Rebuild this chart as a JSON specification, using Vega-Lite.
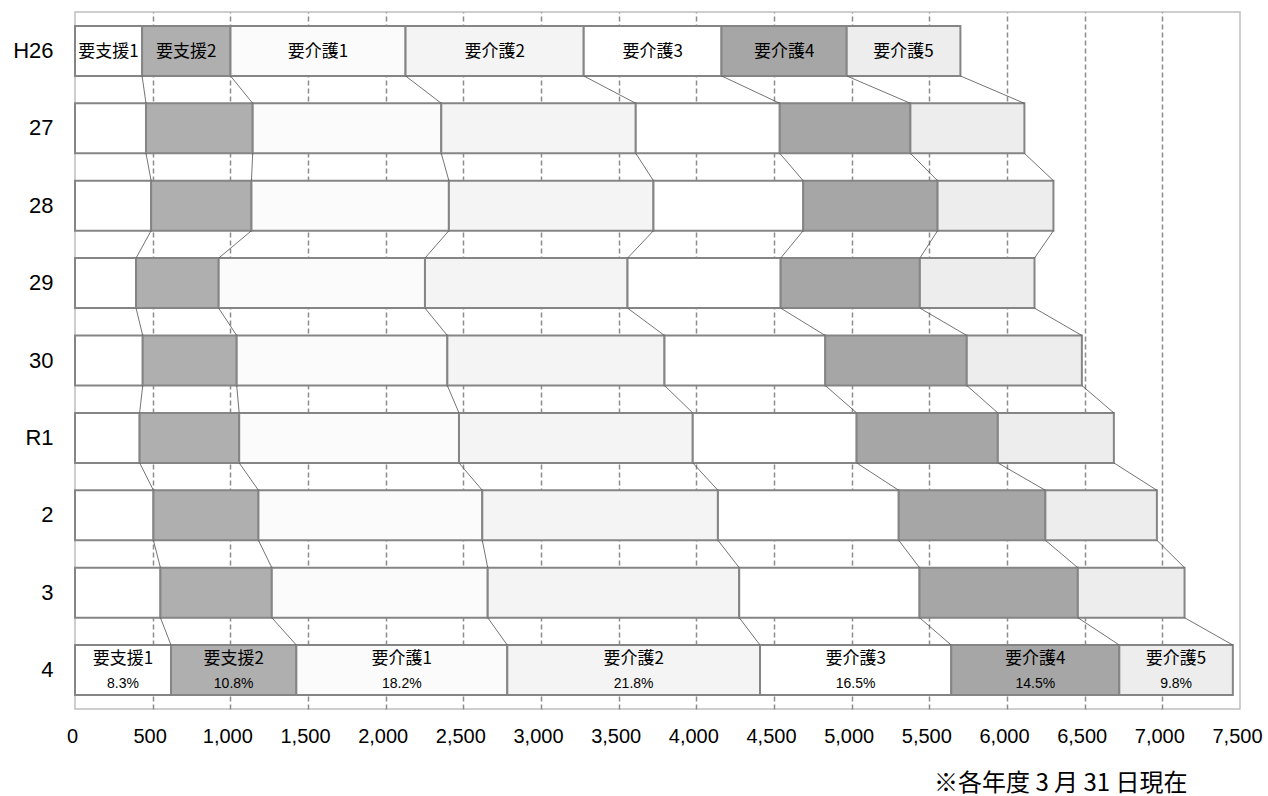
{
  "$schema": "https://vega.github.io/schema/vega-lite/v6.json",
  "width": 1165,
  "height": 697,
  "autosize": {"type": "none"},
  "padding": {"left": 75, "top": 12, "right": 28, "bottom": 87},
  "background": "#ffffff",
  "config": {
    "view": {"stroke": "#bfbfbf", "strokeWidth": 1.5},
    "axis": {"labelColor": "#000000", "titleColor": "#000000"}
  },
  "data": {
    "values": [
      {"year": "H26", "r": 1, "cat": "要支援1", "k": 1, "v": 432, "lbl": "要支援1"},
      {"year": "H26", "r": 1, "cat": "要支援2", "k": 2, "v": 569, "lbl": "要支援2"},
      {"year": "H26", "r": 1, "cat": "要介護1", "k": 3, "v": 1127, "lbl": "要介護1"},
      {"year": "H26", "r": 1, "cat": "要介護2", "k": 4, "v": 1147, "lbl": "要介護2"},
      {"year": "H26", "r": 1, "cat": "要介護3", "k": 5, "v": 887, "lbl": "要介護3"},
      {"year": "H26", "r": 1, "cat": "要介護4", "k": 6, "v": 806, "lbl": "要介護4"},
      {"year": "H26", "r": 1, "cat": "要介護5", "k": 7, "v": 732, "lbl": "要介護5"},
      {"year": "27", "r": 2, "cat": "要支援1", "k": 1, "v": 457},
      {"year": "27", "r": 2, "cat": "要支援2", "k": 2, "v": 687},
      {"year": "27", "r": 2, "cat": "要介護1", "k": 3, "v": 1214},
      {"year": "27", "r": 2, "cat": "要介護2", "k": 4, "v": 1252},
      {"year": "27", "r": 2, "cat": "要介護3", "k": 5, "v": 927},
      {"year": "27", "r": 2, "cat": "要介護4", "k": 6, "v": 841},
      {"year": "27", "r": 2, "cat": "要介護5", "k": 7, "v": 734},
      {"year": "28", "r": 3, "cat": "要支援1", "k": 1, "v": 490},
      {"year": "28", "r": 3, "cat": "要支援2", "k": 2, "v": 646},
      {"year": "28", "r": 3, "cat": "要介護1", "k": 3, "v": 1271},
      {"year": "28", "r": 3, "cat": "要介護2", "k": 4, "v": 1317},
      {"year": "28", "r": 3, "cat": "要介護3", "k": 5, "v": 964},
      {"year": "28", "r": 3, "cat": "要介護4", "k": 6, "v": 865},
      {"year": "28", "r": 3, "cat": "要介護5", "k": 7, "v": 746},
      {"year": "29", "r": 4, "cat": "要支援1", "k": 1, "v": 393},
      {"year": "29", "r": 4, "cat": "要支援2", "k": 2, "v": 532},
      {"year": "29", "r": 4, "cat": "要介護1", "k": 3, "v": 1328},
      {"year": "29", "r": 4, "cat": "要介護2", "k": 4, "v": 1304},
      {"year": "29", "r": 4, "cat": "要介護3", "k": 5, "v": 986},
      {"year": "29", "r": 4, "cat": "要介護4", "k": 6, "v": 896},
      {"year": "29", "r": 4, "cat": "要介護5", "k": 7, "v": 738},
      {"year": "30", "r": 5, "cat": "要支援1", "k": 1, "v": 436},
      {"year": "30", "r": 5, "cat": "要支援2", "k": 2, "v": 605},
      {"year": "30", "r": 5, "cat": "要介護1", "k": 3, "v": 1356},
      {"year": "30", "r": 5, "cat": "要介護2", "k": 4, "v": 1398},
      {"year": "30", "r": 5, "cat": "要介護3", "k": 5, "v": 1035},
      {"year": "30", "r": 5, "cat": "要介護4", "k": 6, "v": 911},
      {"year": "30", "r": 5, "cat": "要介護5", "k": 7, "v": 741},
      {"year": "R1", "r": 6, "cat": "要支援1", "k": 1, "v": 416},
      {"year": "R1", "r": 6, "cat": "要支援2", "k": 2, "v": 641},
      {"year": "R1", "r": 6, "cat": "要介護1", "k": 3, "v": 1415},
      {"year": "R1", "r": 6, "cat": "要介護2", "k": 4, "v": 1505},
      {"year": "R1", "r": 6, "cat": "要介護3", "k": 5, "v": 1055},
      {"year": "R1", "r": 6, "cat": "要介護4", "k": 6, "v": 909},
      {"year": "R1", "r": 6, "cat": "要介護5", "k": 7, "v": 747},
      {"year": "2", "r": 7, "cat": "要支援1", "k": 1, "v": 505},
      {"year": "2", "r": 7, "cat": "要支援2", "k": 2, "v": 676},
      {"year": "2", "r": 7, "cat": "要介護1", "k": 3, "v": 1441},
      {"year": "2", "r": 7, "cat": "要介護2", "k": 4, "v": 1517},
      {"year": "2", "r": 7, "cat": "要介護3", "k": 5, "v": 1164},
      {"year": "2", "r": 7, "cat": "要介護4", "k": 6, "v": 944},
      {"year": "2", "r": 7, "cat": "要介護5", "k": 7, "v": 718},
      {"year": "3", "r": 8, "cat": "要支援1", "k": 1, "v": 550},
      {"year": "3", "r": 8, "cat": "要支援2", "k": 2, "v": 717},
      {"year": "3", "r": 8, "cat": "要介護1", "k": 3, "v": 1390},
      {"year": "3", "r": 8, "cat": "要介護2", "k": 4, "v": 1619},
      {"year": "3", "r": 8, "cat": "要介護3", "k": 5, "v": 1161},
      {"year": "3", "r": 8, "cat": "要介護4", "k": 6, "v": 1019},
      {"year": "3", "r": 8, "cat": "要介護5", "k": 7, "v": 687},
      {"year": "4", "r": 9, "cat": "要支援1", "k": 1, "v": 618, "lbl": "要支援1", "pct": "8.3%"},
      {"year": "4", "r": 9, "cat": "要支援2", "k": 2, "v": 807, "lbl": "要支援2", "pct": "10.8%"},
      {"year": "4", "r": 9, "cat": "要介護1", "k": 3, "v": 1358, "lbl": "要介護1", "pct": "18.2%"},
      {"year": "4", "r": 9, "cat": "要介護2", "k": 4, "v": 1627, "lbl": "要介護2", "pct": "21.8%"},
      {"year": "4", "r": 9, "cat": "要介護3", "k": 5, "v": 1231, "lbl": "要介護3", "pct": "16.5%"},
      {"year": "4", "r": 9, "cat": "要介護4", "k": 6, "v": 1082, "lbl": "要介護4", "pct": "14.5%"},
      {"year": "4", "r": 9, "cat": "要介護5", "k": 7, "v": 731, "lbl": "要介護5", "pct": "9.8%"}
    ]
  },
  "layer": [
    {
      "mark": {"type": "bar", "stroke": "#858585", "strokeWidth": 2},
      "encoding": {
        "y": {
          "field": "year", "type": "nominal",
          "sort": ["H26", "27", "28", "29", "30", "R1", "2", "3", "4"],
          "scale": {"paddingInner": 0.354, "paddingOuter": 0.18},
          "axis": {
            "title": null, "domain": false, "ticks": false, "tickSize": 0,
            "labelPadding": 22, "labelFont": "Liberation Sans", "labelFontSize": 22, "labelFontWeight": "normal",
            "labelAlign": "right", "labelBaseline": "middle"
          }
        },
        "x": {
          "field": "v", "type": "quantitative", "stack": "zero",
          "scale": {"domain": [0, 7500], "nice": false, "zero": true},
          "axis": {
            "values": [0, 500, 1000, 1500, 2000, 2500, 3000, 3500, 4000, 4500, 5000, 5500, 6000, 6500, 7000, 7500],
            "format": ",.0f",
            "domain": false, "ticks": false, "tickSize": 0,
            "labelFont": "Liberation Sans", "labelFontSize": 20,
            "labelBaseline": "middle", "labelPadding": 27, "labelOffset": -3,
            "labelFlush": false, "labelOverlap": false, "labelBound": false,
            "grid": true,
            "gridDash": [5, 3],
            "gridWidth": 1.5,
            "gridColor": {"condition": {"test": "datum.value === 0 || datum.value === 7500", "value": "transparent"}, "value": "#8c8c8c"},
            "title": "※各年度 3 月 31 日現在",
            "titleFont": "Noto Sans CJK JP", "titleFontSize": 24, "titleFontWeight": "normal",
            "titleX": 1112, "titleY": 74, "titleAlign": "right", "titleBaseline": "middle"
          }
        },
        "order": {"field": "k", "type": "quantitative"},
        "color": {
          "field": "cat", "type": "nominal", "legend": null,
          "scale": {
            "domain": ["要支援1", "要支援2", "要介護1", "要介護2", "要介護3", "要介護4", "要介護5"],
            "range": ["#ffffff", "#afafaf", "#fbfbfb", "#f4f4f4", "#ffffff", "#a6a6a6", "#ededed"]
          }
        }
      }
    },
    {
      "transform": [
        {"window": [{"op": "sum", "field": "v", "as": "cum"}], "groupby": ["year"], "sort": [{"field": "k"}]},
        {"window": [{"op": "lead", "field": "cum", "as": "ncum"}, {"op": "lead", "field": "year", "as": "nyear"}], "groupby": ["cat"], "sort": [{"field": "r"}], "frame": [null, null]},
        {"filter": "datum.nyear != null"}
      ],
      "mark": {"type": "rule", "stroke": "#505050", "strokeWidth": 0.8},
      "encoding": {
        "y": {"field": "year", "type": "nominal", "sort": ["H26", "27", "28", "29", "30", "R1", "2", "3", "4"], "bandPosition": 1},
        "y2": {"field": "nyear", "bandPosition": 0},
        "x": {"field": "cum", "type": "quantitative"},
        "x2": {"field": "ncum"}
      }
    },
    {
      "transform": [{"filter": "datum.year === 'H26'"}],
      "mark": {"type": "text", "font": "Noto Sans CJK JP", "fontSize": 17, "color": "#000000", "baseline": "middle", "dy": 1},
      "encoding": {
        "y": {"field": "year", "type": "nominal", "sort": ["H26", "27", "28", "29", "30", "R1", "2", "3", "4"]},
        "x": {"field": "v", "type": "quantitative", "stack": "zero", "bandPosition": 0.5},
        "order": {"field": "k", "type": "quantitative"},
        "text": {"field": "lbl"}
      }
    },
    {
      "transform": [{"filter": "datum.year === '4'"}],
      "mark": {"type": "text", "font": "Noto Sans CJK JP", "fontSize": 17, "color": "#000000", "baseline": "middle", "dy": -11},
      "encoding": {
        "y": {"field": "year", "type": "nominal", "sort": ["H26", "27", "28", "29", "30", "R1", "2", "3", "4"]},
        "x": {"field": "v", "type": "quantitative", "stack": "zero", "bandPosition": 0.5},
        "order": {"field": "k", "type": "quantitative"},
        "text": {"field": "lbl"}
      }
    },
    {
      "transform": [{"filter": "datum.year === '4'"}],
      "mark": {"type": "text", "font": "Liberation Sans", "fontSize": 14, "color": "#000000", "baseline": "middle", "dy": 14},
      "encoding": {
        "y": {"field": "year", "type": "nominal", "sort": ["H26", "27", "28", "29", "30", "R1", "2", "3", "4"]},
        "x": {"field": "v", "type": "quantitative", "stack": "zero", "bandPosition": 0.5},
        "order": {"field": "k", "type": "quantitative"},
        "text": {"field": "pct"}
      }
    }
  ]
}
